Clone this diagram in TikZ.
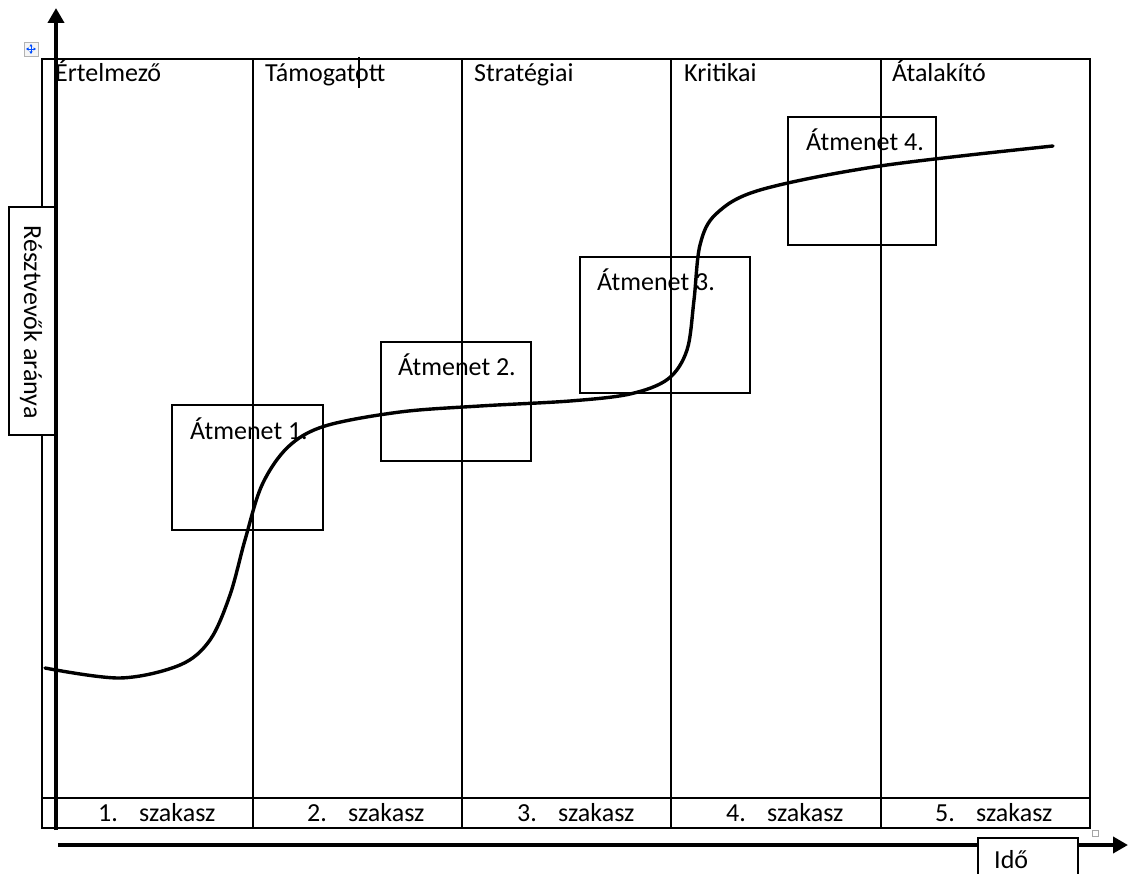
\documentclass[tikz,border=0pt]{standalone}
\usepackage{fontspec}
\setmainfont{Carlito}
\usetikzlibrary{arrows.meta}
\begin{document}
\begin{tikzpicture}[x=1pt,y=-1pt,
  thin line/.style={line width=1.1pt, draw=black},
  axis/.style={line width=4pt, -{Triangle[length=15pt,width=16pt]}},
  lbl/.style={inner sep=0pt, anchor=base west, font=\fontsize{26}{30}\selectfont},
  trbox/.style={thin line, fill=none},
  curve/.style={line width=3.4pt, line cap=round}]
\useasboundingbox (0,0) rectangle (1128,874);

% table frame and columns
\draw[thin line] (42,59) rectangle (1090,828);
\draw[thin line] (42,798) -- (1090,798);
\foreach \cx in {253,462,671,881}
  \draw[thin line] (\cx,59) -- (\cx,828);

% column headers
\node[lbl] (h1) at (55,82) {Értelmező};
\node[lbl] (h2) at (265,82) {Támogatott};
\node[lbl] (h3) at (474,82) {Stratégiai};
\node[lbl] (h4) at (684,82) {Kritikai};
\node[lbl] (h5) at (892,82) {Átalakító};

% stage row
\foreach \n/\nx/\sx in {1/98/139, 2/307/348, 3/517/558, 4/726/767, 5/935/976}{
  \node[lbl] (n\n) at (\nx,821) {\n.};
  \node[lbl] (s\n) at (\sx,821) {szakasz};
}

% transition boxes
\draw[trbox] (172,405) rectangle (323,530);
\draw[trbox] (381,342) rectangle (531,461);
\draw[trbox] (580,257) rectangle (750,393);
\draw[trbox] (788,117) rectangle (936,245);
\node[lbl] (t1) at (190,440) {Átmenet 1.};
\node[lbl] (t2) at (398,376) {Átmenet 2.};
\node[lbl] (t3) at (597,291) {Átmenet 3.};
\node[lbl] (t4) at (806,151) {Átmenet 4.};

% growth curve
\draw[curve] plot[smooth, tension=0.55] coordinates {
  (45,668) (120,678) (180,665) (210,640) (230,595) (245,540) (262,485)
  (288,447) (325,426) (400,412) (480,406) (570,401) (630,394) (668,379)
  (687,350) (694,300) (700,245) (716,214) (760,190) (880,166) (1053,146)};

% y axis label box
\node[draw=black, line width=1.1pt, fill=white, minimum width=46pt,
  minimum height=228pt, inner sep=0pt] (ybox) at (32,321) {};
\node[rotate=-90, inner sep=0pt, font=\fontsize{26}{30}\selectfont] (ylab) at (31,322) {Résztvevők aránya};

% axes
\coordinate (o1) at (56,830);
\coordinate (ytop) at (56,8);
\coordinate (o2) at (58,845);
\coordinate (xend) at (1128,845);
\draw[axis] (o1) -- (ytop);
\draw[axis] (o2) -- (xend);

% time label box
\draw[thin line, fill=white] (978,876) -- (978,838) -- (1078,838) -- (1078,876);
\node[lbl] (ido) at (994,868) {Idő};

% table handles
\node[draw=gray!60, fill=gray!8, line width=0.6pt, minimum size=14pt, inner sep=0pt] (mv) at (31,49) {};
\draw[blue!70!cyan, line width=0.8pt, {Triangle[length=2.5pt,width=3pt]}-{Triangle[length=2.5pt,width=3pt]}] ([xshift=-5pt]mv.center) -- ([xshift=5pt]mv.center);
\draw[blue!70!cyan, line width=0.8pt, {Triangle[length=2.5pt,width=3pt]}-{Triangle[length=2.5pt,width=3pt]}] ([yshift=-5pt]mv.center) -- ([yshift=5pt]mv.center);
\node[draw=gray!70, fill=white, line width=0.6pt, minimum size=6pt, inner sep=0pt] (rs) at (1095,833) {};

% text cursor
\coordinate (c1) at (359,57);
\coordinate (c2) at (359,88);
\draw[line width=2pt] (c1) -- (c2);
\end{tikzpicture}
\end{document}
